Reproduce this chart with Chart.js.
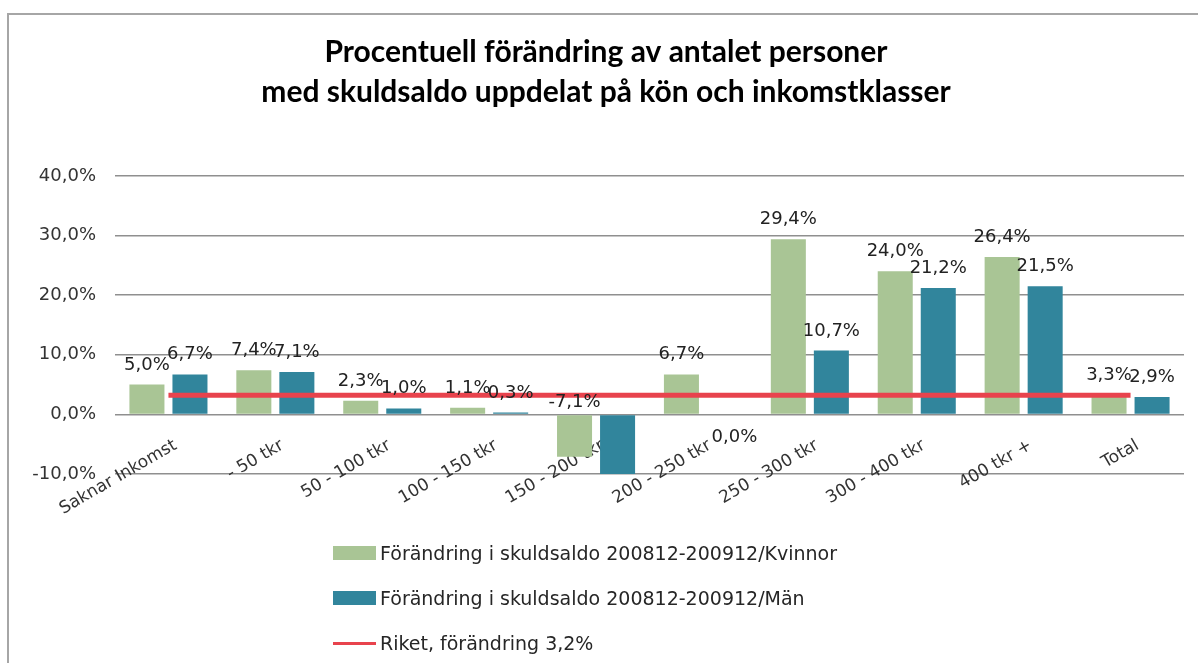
<!DOCTYPE html>
<html lang="sv">
<head>
  <meta charset="UTF-8" />
  <title>Procentuell förändring av antalet personer med skuldsaldo</title>
  <script src="https://cdn.jsdelivr.net/npm/chart.js"></script>
  <style>
    html, body { margin: 0; padding: 0; background: #fff; }
    body { width: 1198px; height: 663px; overflow: hidden; position: relative; font-family: "DejaVu Sans", sans-serif; }
    .frame {
      position: absolute; left: 7px; top: 13px; width: 1300px; height: 700px;
      border-left: 2px solid #a6a6a6; border-top: 2px solid #a6a6a6;
    }
    .chart-wrap { position: absolute; left: 0; top: 0; width: 1198px; height: 663px; }
    .legend { position: absolute; left: 333px; top: 540px; }
    .legend-item { display: flex; align-items: center; height: 26px; margin-bottom: 19px; font-size: 19px; color: #262626; }
    .legend-swatch { width: 43px; height: 14px; margin-right: 4px; }
    .legend-line { width: 43px; height: 3px; margin-right: 4px; }
  </style>
</head>
<body>
  <div class="frame"></div>
  <div class="chart-wrap"><canvas id="barChart"></canvas></div>
  <div class="legend" id="legend"></div>

  <script>
    // data
    const categories = ['Saknar Inkomst', '- 50 tkr', '50 - 100 tkr', '100 - 150 tkr', '150 - 200 tkr',
                        '200 - 250 tkr', '250 - 300 tkr', '300 - 400 tkr', '400 tkr +', 'Total'];
    const kvinnor = [5.0, 7.4, 2.3, 1.1, -7.1, 6.7, 29.4, 24.0, 26.4, 3.3];
    const man     = [6.7, 7.1, 1.0, 0.3, -10.0, 0.0, 10.7, 21.2, 21.5, 2.9];
    const riket   = [3.2, 3.2, 3.2, 3.2, 3.2, 3.2, 3.2, 3.2, 3.2, 3.2];
    const yTicks  = [-10, 0, 10, 20, 30, 40];

    const labelKvinnor = 'Förändring i skuldsaldo 200812-200912/Kvinnor';
    const labelMan = 'Förändring i skuldsaldo 200812-200912/Män';
    const labelRiket = 'Riket, förändring 3,2%';

    const GREEN = '#a9c595';
    const TEAL = '#31859c';
    const RED = '#e8434d';
    const FONT = '"DejaVu Sans", sans-serif';
    const TITLE_FONT = 'Lato, "Open Sans", sans-serif';

    function pct(v) {
      return v.toFixed(1).replace('.', ',') + '%';
    }

    // value labels above the bars
    const barLabels = {
      id: 'barLabels',
      afterDatasetsDraw(chart) {
        const ctx = chart.ctx;
        const y = chart.scales.y;
        const zeroY = y.getPixelForValue(0);
        ctx.save();
        ctx.font = '18px ' + FONT;
        ctx.fillStyle = '#222';
        ctx.textAlign = 'center';
        ctx.textBaseline = 'alphabetic';
        chart.data.datasets.forEach((ds, i) => {
          if (ds.type === 'line') return;
          const meta = chart.getDatasetMeta(i);
          meta.data.forEach((bar, j) => {
            const v = ds.data[j];
            if (v == null || v <= y.min) return;
            if (v > 0) {
              ctx.fillText(pct(v), bar.x, bar.y - 15);
            } else if (v < 0) {
              ctx.fillText(pct(v), bar.x, zeroY - 7);
            } else {
              ctx.fillText(pct(v), bar.x + 10, zeroY + 28);
            }
          });
        });
        ctx.restore();
      }
    };

    const ctx = document.getElementById('barChart').getContext('2d');
    new Chart(ctx, {
      type: 'bar',
      data: {
        labels: categories,
        datasets: [
          { type: 'line', label: labelRiket, data: riket, borderColor: RED, borderWidth: 5,
            pointRadius: 0, fill: false, order: 0 },
          { label: labelKvinnor, data: kvinnor, backgroundColor: GREEN, order: 1,
            categoryPercentage: 0.805, barPercentage: 0.814 },
          { label: labelMan, data: man, backgroundColor: TEAL, order: 1,
            categoryPercentage: 0.805, barPercentage: 0.814 }
        ]
      },
      options: {
        responsive: true,
        maintainAspectRatio: false,
        animation: false,
        layout: { padding: { left: 28, right: 14, top: 0, bottom: 189 } },
        plugins: {
          legend: { display: false },
          tooltip: { enabled: false },
          title: {
            display: true,
            text: ['Procentuell förändring av antalet personer', 'med skuldsaldo uppdelat på kön och inkomstklasser'],
            color: '#000',
            font: { family: TITLE_FONT, size: 30, weight: 'bold', lineHeight: 1.333 },
            padding: { top: 32, bottom: 64 }
          }
        },
        scales: {
          x: {
            position: { y: 0 },
            grid: { display: false },
            border: { display: false },
            ticks: {
              autoSkip: false,
              minRotation: 30,
              maxRotation: 30,
              padding: 13,
              labelOffset: 7,
              color: '#333',
              font: { family: FONT, size: 17 }
            }
          },
          y: {
            min: yTicks[0],
            max: yTicks[yTicks.length - 1],
            afterBuildTicks: s => { s.ticks = yTicks.map(v => ({ value: v })); },
            afterFit: s => { s.width = 87; },
            border: { display: false },
            grid: { color: '#8f8f8f', lineWidth: 1.5, drawTicks: false },
            ticks: {
              padding: 19,
              color: '#333',
              font: { family: FONT, size: 18 },
              callback: v => pct(v)
            }
          }
        }
      },
      plugins: [barLabels]
    });

    // legend, vertical list like the original
    const legendItems = [
      { text: labelKvinnor, color: GREEN, kind: 'box' },
      { text: labelMan, color: TEAL, kind: 'box' },
      { text: labelRiket, color: RED, kind: 'line' }
    ];
    const legend = document.getElementById('legend');
    legendItems.forEach(item => {
      const row = document.createElement('div');
      row.className = 'legend-item';
      const sw = document.createElement('span');
      sw.className = item.kind === 'box' ? 'legend-swatch' : 'legend-line';
      sw.style.background = item.color;
      const tx = document.createElement('span');
      tx.textContent = item.text;
      row.appendChild(sw);
      row.appendChild(tx);
      legend.appendChild(row);
    });
  </script>
</body>
</html>
